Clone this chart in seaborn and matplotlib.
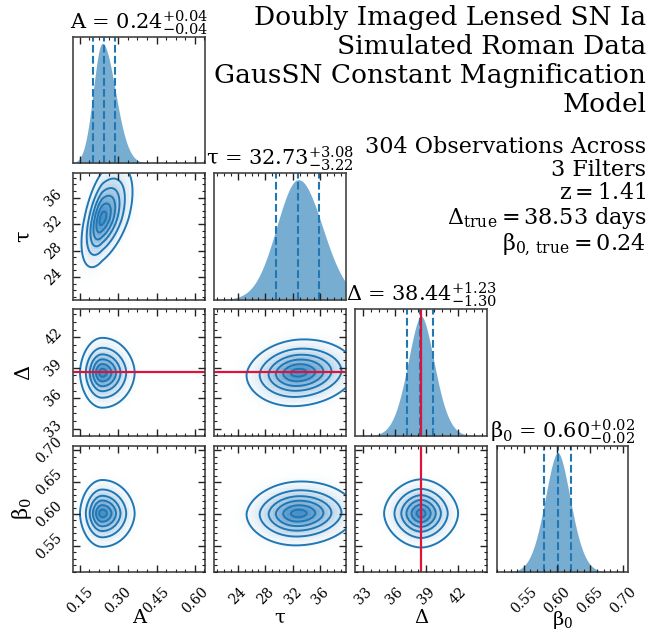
import numpy as np
import pandas as pd
import matplotlib
matplotlib.use("Agg")
import matplotlib.pyplot as plt
import seaborn as sns
from matplotlib.ticker import FixedLocator, AutoMinorLocator, NullLocator
from matplotlib.colors import LinearSegmentedColormap

# ---------------- data ----------------
param_labels = ["A", r"$\tau$", r"$\Delta$", r"$\beta_0$"]
medians = [0.244, 32.73, 38.44, 0.601]
err_minus = [0.041, 3.22, 1.30, 0.02]
err_plus = [0.044, 3.08, 1.23, 0.02]
# posterior shape: peak, width and tail steepness on each side
modes = [0.2375, 32.8, 38.5, 0.601]
width_left = [0.035, 3.15, 1.25, 0.019]
width_right = [0.051, 3.5, 1.25, 0.019]
tail_left = [1.0, 1.0, 0.9, 0.9]
tail_right = [1.0, 1.0, 0.9, 0.9]
# correlation of each lower-triangle pair (row parameter, column parameter)
pair_rows = [1, 2, 2, 3, 3, 3]
pair_cols = [0, 0, 1, 0, 1, 2]
pair_corr = [0.5, 0.0, 0.1, 0.0, 0.05, 0.0]
truths = [None, None, 38.53, 0.24]
axis_ranges = [(0.124, 0.639), (20.6, 39.7), (32.28, 44.75), (0.509, 0.707)]
tick_values = [[0.15, 0.30, 0.45, 0.60], [24, 28, 32, 36], [33, 36, 39, 42],
               [0.55, 0.60, 0.65, 0.70]]
tick_labels = [["0.15", "0.30", "0.45", "0.60"], ["24", "28", "32", "36"],
               ["33", "36", "39", "42"], ["0.55", "0.60", "0.65", "0.70"]]
contour_mass = [0.05, 0.2, 0.4, 0.6, 0.8, 0.95]
title_lines = ["Doubly Imaged Lensed SN Ia", "Simulated Roman Data",
               "GausSN Constant Magnification", "Model"]
info_lines = ["304 Observations Across", "3 Filters", r"$\mathrm{z} = 1.41$",
              r"$\Delta_{\rm true} = 38.53$ days", r"$\beta_{0,\,\rm true} = 0.24$"]

# ---------------- style ----------------
sns.set_style("ticks")
plt.rcParams.update({
    "font.family": ["DejaVu Serif"],
    "mathtext.fontset": "dejavuserif",
    "mathtext.default": "rm",
    "text.color": "black", "axes.labelcolor": "black",
    "axes.edgecolor": "#444444", "axes.linewidth": 1.2,
    "axes.axisbelow": False,
})

C0 = "#1f77b4"
RED = "#dc143c"
shade_cmap = LinearSegmentedColormap.from_list("shade", ["#ffffff", "#4a90c6"])

npar = len(param_labels)
NB1 = 240
NB2 = 45


def split_coord(x, i):
    d = x - modes[i]
    left = -(np.abs(d) / width_left[i]) ** tail_left[i]
    right = (np.abs(d) / width_right[i]) ** tail_right[i]
    return np.where(d < 0, left, right)


def density2d(xc, yc, j, i, rho):
    U = split_coord(xc, j)[None, :]
    V = split_coord(yc, i)[:, None]
    return np.exp(-(U ** 2 - 2 * rho * U * V + V ** 2) / (2 * (1 - rho ** 2)))


def mass_levels(Z, fracs):
    z = np.sort(Z.ravel())[::-1]
    c = np.cumsum(z)
    c /= c[-1]
    return sorted(z[min(np.searchsorted(c, f), len(z) - 1)] for f in fracs)


fig, axes = plt.subplots(
    npar, npar, figsize=(6.71, 6.32), dpi=100,
    gridspec_kw=dict(left=0.1092, right=0.9361, bottom=0.0946, top=0.9419,
                     wspace=0.073, hspace=0.0775))


def style_ticks(ax, xi, yi):
    ax.set_axisbelow(False)
    ax.set_xlim(*axis_ranges[xi])
    ax.xaxis.set_major_locator(FixedLocator(tick_values[xi]))
    ax.xaxis.set_minor_locator(AutoMinorLocator())
    if yi is not None:
        ax.set_ylim(*axis_ranges[yi])
        ax.yaxis.set_major_locator(FixedLocator(tick_values[yi]))
        ax.yaxis.set_minor_locator(AutoMinorLocator())
    ax.tick_params(which="both", direction="in", top=True, bottom=True,
                   left=True, right=True, color="#222222", labelcolor="black",
                   labelsize=10)
    ax.tick_params(which="major", length=5, width=1.0)
    ax.tick_params(which="minor", length=2.5, width=0.8)


for i in range(npar):
    for j in range(npar):
        ax = axes[i, j]
        if j > i:
            ax.set_visible(False)
            continue
        if i == j:
            lo, hi = axis_ranges[i]
            edges = np.linspace(lo, hi, NB1 + 1)
            cent = 0.5 * (edges[1:] + edges[:-1])
            dens = np.exp(-0.5 * split_coord(cent, i) ** 2)
            df1 = pd.DataFrame({"v": cent, "w": dens})
            sns.histplot(data=df1, x="v", weights="w", bins=NB1, binrange=(lo, hi),
                         element="poly", fill=True, color=C0, alpha=0.6,
                         linewidth=0, ax=ax)
            ax.set_ylim(0, dens.max() * 1.055)
            for q in (medians[i] - err_minus[i], medians[i], medians[i] + err_plus[i]):
                ax.axvline(q, color=C0, ls="--", lw=1.5)
            if truths[i] is not None:
                ax.axvline(truths[i], color=RED, lw=1.6)
            style_ticks(ax, i, None)
            ax.set_yticks([])
            ax.yaxis.set_minor_locator(NullLocator())
            ax.tick_params(axis="y", which="both", left=False, right=False)
            ax.set_xlabel("")
            ax.set_ylabel("")
            title = (param_labels[i] + " = " +
                     r"${%.2f}_{-%.2f}^{+%.2f}$" % (medians[i], err_minus[i], err_plus[i]))
            ax.set_title(title, fontsize=15, pad=3)
        else:
            k = [n for n in range(len(pair_rows))
                 if pair_rows[n] == i and pair_cols[n] == j][0]
            rho = pair_corr[k]
            # shaded 2D histogram
            xe = np.linspace(*axis_ranges[j], NB2 + 1)
            ye = np.linspace(*axis_ranges[i], NB2 + 1)
            xc = 0.5 * (xe[1:] + xe[:-1])
            yc = 0.5 * (ye[1:] + ye[:-1])
            Zc = density2d(xc, yc, j, i, rho)
            XX, YY = np.meshgrid(xc, yc)
            df2 = pd.DataFrame({"x": XX.ravel(), "y": YY.ravel(), "w": Zc.ravel()})
            sns.histplot(data=df2, x="x", y="y", weights="w", bins=NB2,
                         binrange=(axis_ranges[j], axis_ranges[i]),
                         cmap=shade_cmap, ax=ax)
            # contour lines
            xf = np.linspace(*axis_ranges[j], 220)
            yf = np.linspace(*axis_ranges[i], 220)
            Zf = density2d(xf, yf, j, i, rho)
            ax.contour(xf, yf, Zf, levels=mass_levels(Zf, contour_mass),
                       colors=C0, linewidths=1.4)
            if truths[j] is not None:
                ax.axvline(truths[j], color=RED, lw=1.6)
            if truths[i] is not None:
                ax.axhline(truths[i], color=RED, lw=1.6)
            style_ticks(ax, j, i)
            ax.set_xlabel("")
            ax.set_ylabel("")

        # tick labels
        if i == npar - 1:
            ax.set_xticklabels(tick_labels[j], rotation=45)
            ax.tick_params(axis="x", which="major", pad=9)
            ax.set_xlabel(param_labels[j], fontsize=14)
            ax.xaxis.set_label_coords(0.5, -0.29)
        else:
            ax.set_xticklabels([])
        if j == 0 and i > 0:
            ax.set_yticklabels(tick_labels[i], rotation=45, va="center")
            ax.tick_params(axis="y", which="major", pad=6)
            ax.set_ylabel(param_labels[i], fontsize=15)
            ax.yaxis.set_label_coords(-0.3, 0.5)
        elif i != j:
            ax.set_yticklabels([])

fig.text(0.963, 0.992, "\n".join(title_lines), ha="right", va="top", fontsize=19)
fig.text(0.963, 0.785, "\n".join(info_lines), ha="right", va="top", fontsize=16,
         linespacing=1.05)

fig.savefig("out.png", dpi=100)
